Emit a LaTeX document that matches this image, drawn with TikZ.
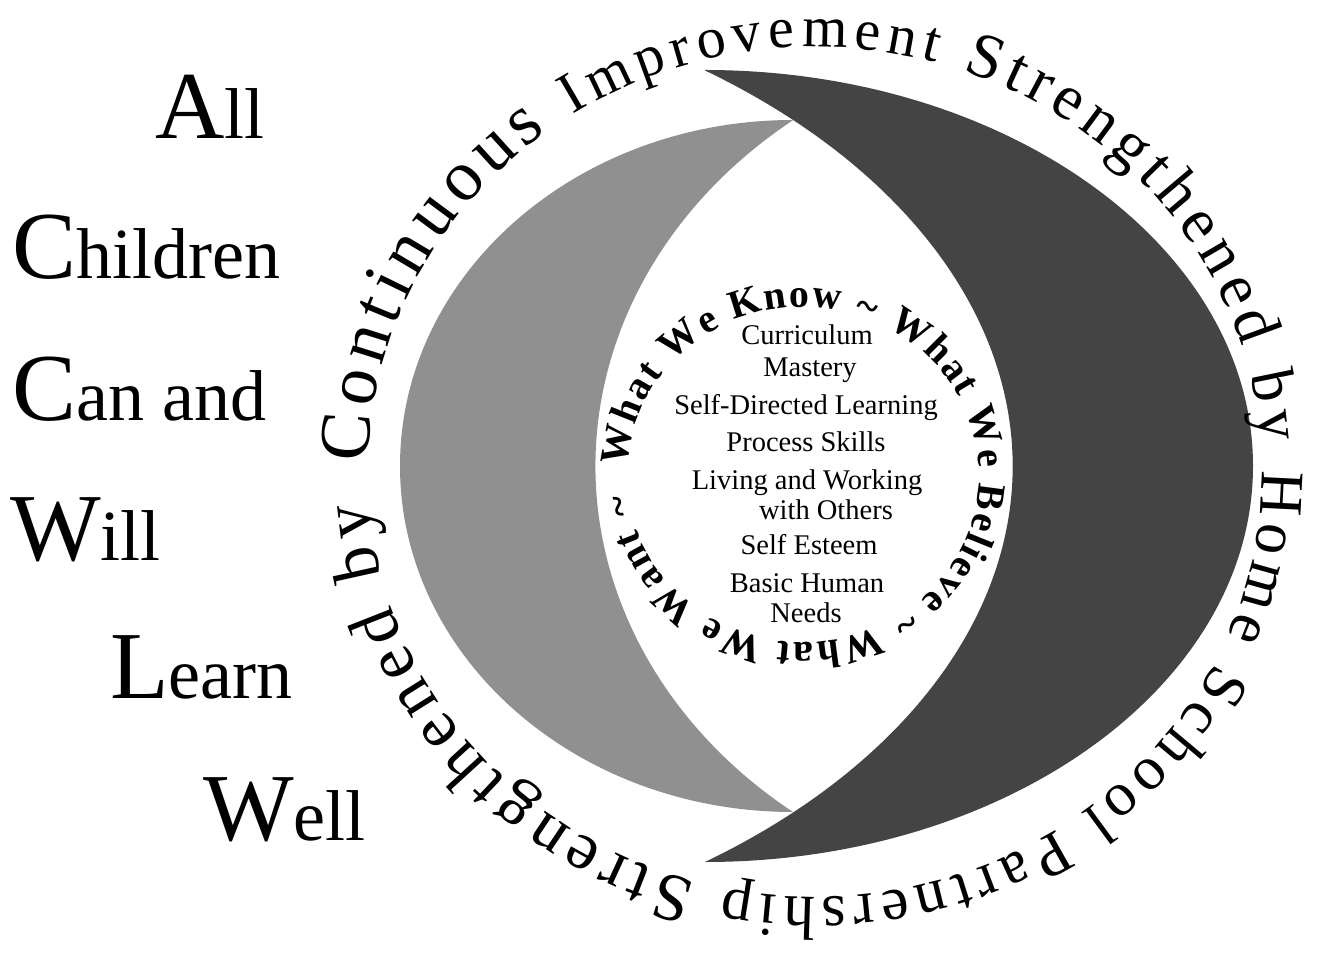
\documentclass[tikz,border=0pt]{standalone}
\usepackage{fontspec}
\setmainfont{Liberation Serif}
\usetikzlibrary{decorations.text}
\definecolor{ink}{HTML}{000000}
\definecolor{lightband}{HTML}{909090}
\definecolor{darkband}{HTML}{444444}
\tikzset{
  motto/.style={anchor=base west, inner sep=0pt, text=ink, font=\fontsize{72}{76}\selectfont},
  listitem/.style={anchor=base, inner sep=0pt, text=ink, font=\fontsize{28.5}{30}\selectfont}
}
\newcommand{\bigini}[1]{{\fontsize{96}{96}\selectfont #1}}
\newcommand{\ringsize}[1]{\fontsize{#1}{#1}\selectfont}
\newcommand{\ringtilde}{\raisebox{-0.04em}{\textasciitilde}}

\begin{document}
\begin{tikzpicture}[x=1pt,y=1pt]
  \useasboundingbox (0,0) rectangle (1343,962);
  \fill[white] (0,0) rectangle (1343,962);

  % Two crescents.
  \fill[darkband] (705,892) arc[start angle=90, end angle=-90, x radius=548, y radius=396]
    arc[start angle=-53.4, end angle=53.4, x radius=762, y radius=493] -- cycle;
  \fill[lightband] (793,842) arc[start angle=90, end angle=270, x radius=393, y radius=346]
    arc[start angle=232.5, end angle=127.5, x radius=505, y radius=436] -- cycle;

  % Outer ring text, clockwise.
  \path[shift={(815,490)}, decorate, decoration={text along path, text align=fit to path,
      text={|\ringsize{72}|Continuous |\ringsize{58}|Improvement |\ringsize{64}|Strengthened
        |\ringsize{62}|by Home School Partnership |\ringsize{68}|Strengthened by}}]
    (178.7:447 and 425) arc[start angle=178.7, end angle=-175.8, x radius=447, y radius=425];

  % Inner ring text, clockwise.
  \path[shift={(803,487)}, decorate, decoration={text along path, text align=fit to path,
      text={|\ringsize{40}\bfseries|What We Know {\ringtilde} What We Believe
        {\ringtilde} What We Want {\ringtilde}}}]
    (177.2:176 and 168) arc[start angle=177.2, end angle=-173.3, x radius=176, y radius=168];

  % Centre list.
  \node[listitem] (curr) at (807,617) {Curriculum};
  \node[listitem] (mast) at (810,585) {Mastery};
  \node[listitem] (selfdir) at (806,547) {Self-Directed Learning};
  \node[listitem] (proc) at (806,510) {Process Skills};
  \node[listitem] (living) at (807,472) {Living and Working};
  \node[listitem] (others) at (826,442) {with Others};
  \node[listitem] (esteem) at (809,407) {Self Esteem};
  \node[listitem] (basic) at (807,370) {Basic Human};
  \node[listitem] (needs) at (806,340) {Needs};

  % Motto down the left.
  \node[motto] (all) at (155,823) {\bigini{A}ll};
  \node[motto] (children) at (12,683) {\bigini{C}hildren};
  \node[motto] (can) at (12,541) {\bigini{C}an and};
  \node[motto] (will) at (10,402) {\bigini{W}ill};
  \node[motto] (learn) at (110,264) {\bigini{L}earn};
  \node[motto] (well) at (203,122) {\bigini{W}ell};
\end{tikzpicture}
\end{document}
